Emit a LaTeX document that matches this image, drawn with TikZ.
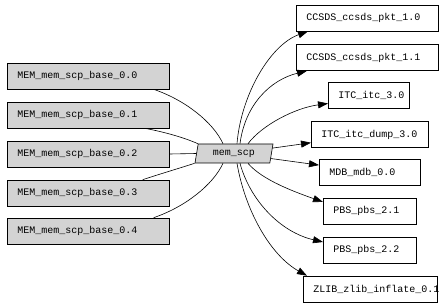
\documentclass[tikz,border=0pt]{standalone}
\usepackage{fontspec}
\setmonofont{Liberation Mono}
\usetikzlibrary{arrows.meta,shapes.geometric}
\definecolor{Grey}{HTML}{D3D3D3}

\begin{document}
\begin{tikzpicture}[x=1pt,y=-1pt,line width=0.6pt,
  box/.style={draw,rectangle,anchor=west,minimum height=26pt,inner xsep=10pt,inner ysep=0pt,align=left,font=\ttfamily\fontsize{10}{12}\selectfont},
  pkg/.style={box,fill=Grey},
  dep/.style={-{Triangle[length=10pt,width=7pt]}}]
  \useasboundingbox (0,0) rectangle (448,305);
  % packages on the left
  \node[pkg,text width=142pt] (mem0) at (7,76) {MEM\_mem\_scp\_base\_0.0};
  \node[pkg,text width=142pt] (mem1) at (7,115) {MEM\_mem\_scp\_base\_0.1};
  \node[pkg,text width=142pt] (mem2) at (7,154) {MEM\_mem\_scp\_base\_0.2};
  \node[pkg,text width=142pt] (mem3) at (7,193) {MEM\_mem\_scp\_base\_0.3};
  \node[pkg,text width=142pt] (mem4) at (7,231) {MEM\_mem\_scp\_base\_0.4};
  % the component
  \node[trapezium,trapezium left angle=67,trapezium right angle=113,trapezium stretches body,
        draw,fill=Grey,minimum width=78pt,minimum height=19pt,inner sep=0pt,
        font=\ttfamily\fontsize{10}{12}\selectfont] (scp) at (234,153.5) {mem\_scp};
  % dependencies on the right
  \node[box,text width=122pt] (pkt0) at (296,18) {CCSDS\_ccsds\_pkt\_1.0};
  \node[box,text width=122pt] (pkt1) at (296,57.5) {CCSDS\_ccsds\_pkt\_1.1};
  \node[box,text width=61pt] (itc) at (328,95.5) {ITC\_itc\_3.0};
  \node[box,text width=97pt] (dump) at (311,134.5) {ITC\_itc\_dump\_3.0};
  \node[box,text width=81pt] (mdb) at (319,172) {MDB\_mdb\_0.0};
  \node[box,text width=73pt] (pbs1) at (323,211) {PBS\_pbs\_2.1};
  \node[box,text width=73pt] (pbs2) at (323,250) {PBS\_pbs\_2.2};
  \node[box,text width=114pt] (zlib) at (303,289) {ZLIB\_zlib\_inflate\_0.1};
  % left edges
  \draw ([xshift=-16pt]mem0.south east) .. controls (185,100) and (213,122) .. ([xshift=-11pt]scp.north);
  \draw ([xshift=-25pt]mem1.south east) .. controls (165,132) and (185,138) .. (scp.top left corner);
  \draw (mem2.east) -- (scp.west);
  \draw ([xshift=-27pt]mem3.north east) .. controls (160,174) and (180,168) .. (scp.bottom left corner);
  \draw ([xshift=-16pt]mem4.north east) .. controls (185,207) and (213,185) .. ([xshift=-11pt]scp.south);
  % right edges
  \draw[dep] ([xshift=3pt]scp.north) .. controls (241,95) and (270,45) .. ([xshift=12pt]pkt0.south west);
  \draw[dep] ([xshift=6pt]scp.north) .. controls (245,105) and (270,80) .. ([xshift=11pt]pkt1.south west);
  \draw[dep] ([xshift=14pt]scp.north) .. controls (262,125) and (295,108) .. ([yshift=-8pt]itc.west);
  \draw[dep] (scp) -- (dump);
  \draw[dep] (scp) -- (mdb);
  \draw[dep] ([xshift=14pt]scp.south) .. controls (262,180) and (295,192) .. ([yshift=9pt]pbs1.west);
  \draw[dep] ([xshift=6pt]scp.south) .. controls (250,200) and (280,232) .. ([yshift=8pt]pbs2.west);
  \draw[dep] ([xshift=3pt]scp.south) .. controls (245,210) and (270,255) .. ([xshift=4pt]zlib.north west);
\end{tikzpicture}
\end{document}
